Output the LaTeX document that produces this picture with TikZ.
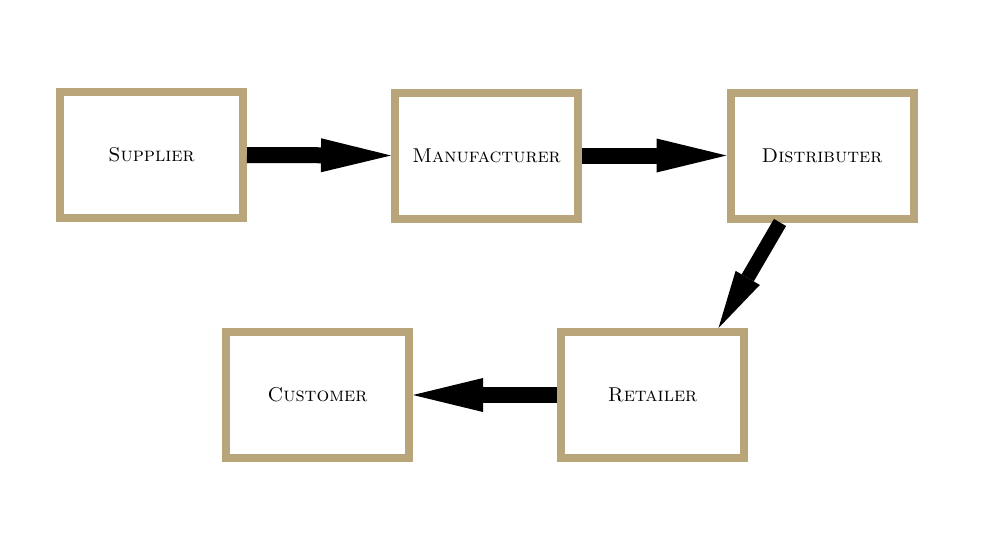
\documentclass[tikz,border=0pt]{standalone}
\usepackage{tikz}
\usetikzlibrary{arrows.meta}

\definecolor{frametan}{RGB}{184,166,122}

\begin{document}
\begin{tikzpicture}[x=1pt,y=-1pt]
		\tikzstyle{every node}+=[inner sep=0pt]
		\tikzstyle{stage}=[draw=frametan, line width=8pt, fill=white, minimum width=183pt, minimum height=126pt, font=\fontsize{20}{22}\selectfont\scshape]
		\tikzstyle{flow}=[line width=16pt, -{Triangle[length=70pt,width=34pt,line width=0pt]}]
		\useasboundingbox (0,0) rectangle (992,546);
		\node [stage] (sup) at (151.5,155) {Supplier};
		\node [stage] (man) at (486.5,155.5) {Manufacturer};
		\node [stage] (dis) at (822,155.5) {Distributer};
		\node [stage] (cus) at (317.5,395) {Customer};
		\node [stage] (ret) at (652.5,395) {Retailer};
		\draw [flow] (sup.east) -- (man.west);
		\draw [flow] (man.east) -- (dis.west);
		\draw [flow, line width=14pt, -{Triangle[length=58pt,width=28pt,line width=0pt]}] ([xshift=-42pt]dis.south) -- ([xshift=66pt]ret.north);
		\draw [flow] (ret.west) -- (cus.east);
\end{tikzpicture}
\end{document}
